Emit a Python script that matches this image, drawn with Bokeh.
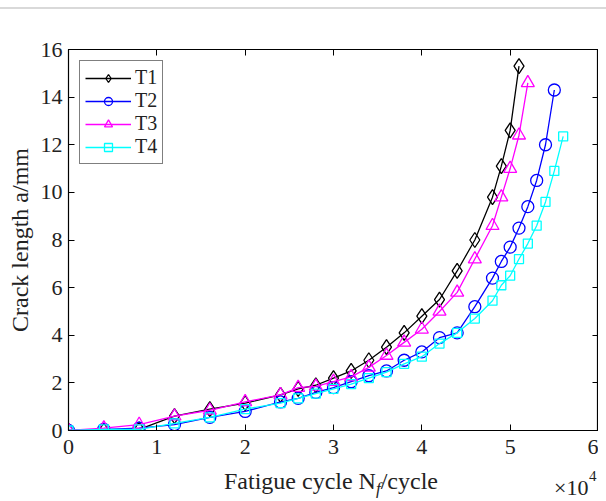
from bokeh.plotting import figure
from bokeh.models import Range1d, LinearAxis, FixedTicker, Legend, LegendItem, Div
from bokeh.layouts import column
from bokeh.embed import file_html
from bokeh.resources import INLINE

# Fatigue cycles (x 10^4) and crack length a (mm)
x_t1 = [0, 0.4, 0.8, 1.2, 1.6, 2.0, 2.4, 2.6, 2.8, 3.0, 3.2, 3.4, 3.6, 3.8, 4.0, 4.2, 4.4, 4.6, 4.8, 4.9, 5.0, 5.1]
a_t1 = [0, 0.0, 0.05, 0.6, 0.9, 1.15, 1.5, 1.75, 1.9, 2.2, 2.5, 2.95, 3.5, 4.1, 4.8, 5.5, 6.7, 8.0, 9.8, 11.1, 12.6, 15.3]

x_t2 = [0, 0.4, 0.8, 1.2, 1.6, 2.0, 2.4, 2.6, 2.8, 3.0, 3.2, 3.4, 3.6, 3.8, 4.0, 4.2, 4.4, 4.6, 4.8, 4.9, 5.0, 5.1, 5.2, 5.3, 5.4, 5.5]
a_t2 = [0, 0.05, 0.1, 0.25, 0.55, 0.8, 1.2, 1.35, 1.6, 1.8, 2.05, 2.3, 2.5, 2.95, 3.3, 3.9, 4.1, 5.2, 6.4, 7.1, 7.7, 8.5, 9.4, 10.5, 12.0, 14.3]

x_t3 = [0, 0.4, 0.8, 1.2, 1.6, 2.0, 2.4, 2.6, 2.8, 3.0, 3.2, 3.4, 3.6, 3.8, 4.0, 4.2, 4.4, 4.6, 4.8, 4.9, 5.0, 5.1, 5.2]
a_t3 = [0, 0.1, 0.25, 0.6, 0.85, 1.2, 1.5, 1.8, 1.85, 2.05, 2.25, 2.65, 3.15, 3.7, 4.25, 5.0, 5.8, 7.2, 8.6, 9.8, 11.0, 12.4, 14.6]

x_t4 = [0, 0.4, 0.8, 1.2, 1.6, 2.0, 2.4, 2.6, 2.8, 3.0, 3.2, 3.4, 3.6, 3.8, 4.0, 4.2, 4.4, 4.6, 4.8, 4.9, 5.0, 5.1, 5.2, 5.3, 5.4, 5.5, 5.6]
a_t4 = [0, 0.05, 0.05, 0.3, 0.55, 0.9, 1.15, 1.35, 1.55, 1.75, 1.95, 2.2, 2.45, 2.8, 3.1, 3.65, 4.1, 4.7, 5.45, 6.1, 6.5, 7.2, 7.85, 8.6, 9.6, 10.9, 12.35]

x_ticks = [0, 1, 2, 3, 4, 5, 6]
y_ticks = [0, 2, 4, 6, 8, 10, 12, 14, 16]

SERIF = "Liberation Serif"
TXT = "#222222"

# thin grey rule at the very top of the picture
top_rule = Div(text="<div style=\"position:absolute;left:0;top:7px;width:606px;height:2px;"
                    "background:#d9d9d9;\"></div>", width=606, height=10, margin=0)

p = figure(frame_width=530, frame_height=381, output_backend="svg", toolbar_location=None,
           x_range=Range1d(0, 6), y_range=Range1d(0, 16),
           min_border_left=68, min_border_top=39, min_border_right=0, min_border_bottom=36,
           background_fill_color="white", border_fill_color="white")
p.grid.visible = False
p.outline_line_color = "black"
p.outline_line_width = 1.2

for ax in (p.xaxis[0], p.yaxis[0]):
    ax.major_tick_in = 6
    ax.major_tick_out = 0
    ax.minor_tick_in = 0
    ax.minor_tick_out = 0
    ax.axis_line_color = "black"
    ax.major_tick_line_color = "black"
    ax.major_label_text_font = SERIF
    ax.major_label_text_font_size = "22px"
    ax.major_label_text_color = TXT
p.xaxis[0].ticker = FixedTicker(ticks=x_ticks)
p.yaxis[0].ticker = FixedTicker(ticks=y_ticks)
p.xaxis[0].major_label_standoff = 9
p.yaxis[0].major_label_standoff = 6
p.yaxis[0].axis_label = "Crack length a/mm"
p.yaxis[0].axis_label_text_font = SERIF
p.yaxis[0].axis_label_text_font_size = "24px"
p.yaxis[0].axis_label_text_font_style = "normal"
p.yaxis[0].axis_label_text_color = TXT
p.yaxis[0].axis_label_standoff = 5

top_ax = LinearAxis(ticker=FixedTicker(ticks=x_ticks), major_tick_in=6, major_tick_out=0,
                    minor_tick_in=0, minor_tick_out=0, major_label_text_alpha=0,
                    major_label_text_font_size="1px", major_label_standoff=0)
right_ax = LinearAxis(ticker=FixedTicker(ticks=y_ticks), major_tick_in=6, major_tick_out=0,
                      minor_tick_in=0, minor_tick_out=0, major_label_text_alpha=0,
                      major_label_text_font_size="1px", major_label_standoff=0)
p.add_layout(top_ax, "above")
p.add_layout(right_ax, "right")

series = [
    ("T1", x_t1, a_t1, "black", "diamond", 15),
    ("T2", x_t2, a_t2, "#0000ff", "circle", 12),
    ("T3", x_t3, a_t3, "#ff00ff", "triangle", 13),
    ("T4", x_t4, a_t4, "#00ffff", "square", 9),
]
items = []
for name, xs, ys, col, mk, sz in series:
    r1 = p.line(xs, ys, line_color=col, line_width=1.3)
    r2 = p.scatter(xs, ys, marker=mk, size=sz, line_color=col, fill_color=None, line_width=1.3)
    items.append(LegendItem(label=name, renderers=[r1, r2]))

legend = Legend(items=items, location="top_left", margin=11, padding=5, spacing=0,
                glyph_width=46, glyph_height=20, label_text_font=SERIF,
                label_text_font_size="20px", label_text_color=TXT,
                border_line_color="black", border_line_width=1.2,
                label_standoff=4, label_height=20)
p.add_layout(legend, "center")

xlabel_html = (
    "<div style=\"position:relative;width:606px;height:27px;overflow:visible;"
    "font-family:'Liberation Serif',serif;color:%s;\">"
    "<span style=\"position:absolute;left:224px;top:3px;font-size:24px;line-height:24px;white-space:nowrap;\">"
    "Fatigue cycle N<span style=\"font-style:italic;font-size:17px;position:relative;top:5px;\">f</span>/cycle</span>"
    "<span style=\"position:absolute;left:554px;top:11px;font-size:22px;line-height:22px;white-space:nowrap;\">\u00d710</span>"
    "<span style=\"position:absolute;left:589px;top:3px;font-size:15px;line-height:15px;\">4</span>"
    "</div>" % TXT
)
div = Div(text=xlabel_html, width=606, height=27, margin=0)

layout = column(top_rule, p, div, spacing=0)
open("out.html", "w").write(file_html(layout, INLINE))
